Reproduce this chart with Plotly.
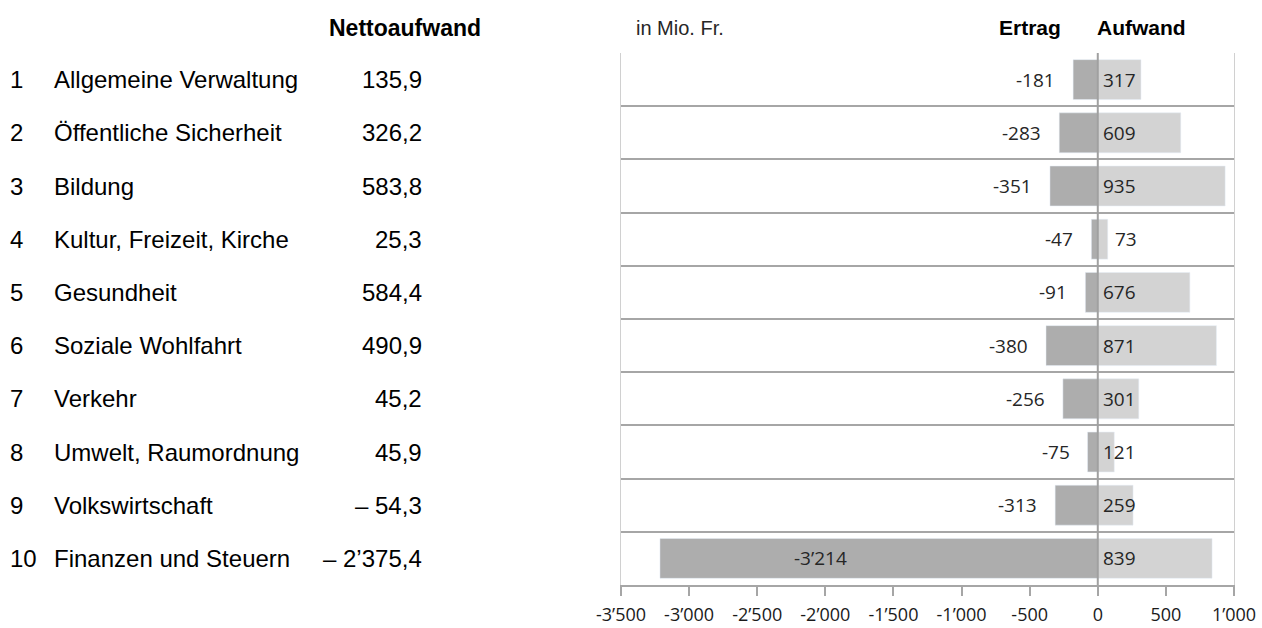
import plotly.graph_objects as go

numbers = ["1", "2", "3", "4", "5", "6", "7", "8", "9", "10"]
categories = ["Allgemeine Verwaltung", "Öffentliche Sicherheit", "Bildung",
              "Kultur, Freizeit, Kirche", "Gesundheit", "Soziale Wohlfahrt",
              "Verkehr", "Umwelt, Raumordnung", "Volkswirtschaft",
              "Finanzen und Steuern"]
netto = ["135,9", "326,2", "583,8", "25,3", "584,4", "490,9", "45,2", "45,9",
         "– 54,3", "– 2’375,4"]
ertrag = [-181, -283, -351, -47, -91, -380, -256, -75, -313, -3214]
aufwand = [317, 609, 935, 73, 676, 871, 301, 121, 259, 839]
tick_vals = [-3500, -3000, -2500, -2000, -1500, -1000, -500, 0, 500, 1000]
tick_text = ["-3’500", "-3’000", "-2’500", "-2’000", "-1’500", "-1’000",
             "-500", "0", "500", "1’000"]


def fmt(v):
    s = f"{abs(v):,}".replace(",", "’")
    return ("-" if v < 0 else "") + s


ypos = list(range(len(categories)))
DARK = "#adadad"
LIGHT = "#d3d3d3"
NUMFONT = dict(family="Open Sans, DejaVu Sans", size=19, color="#262626")
TXTFONT = dict(family="Liberation Sans, Arial", size=24, color="#000000")
HDRFONT = dict(family="Liberation Sans, Arial", size=21, color="#000000")

fig = go.Figure()
fig.add_trace(go.Bar(y=ypos, x=ertrag, orientation="h", marker_color=DARK,
                     width=0.75, hoverinfo="skip"))
fig.add_trace(go.Bar(y=ypos, x=aufwand, orientation="h", marker_color=LIGHT,
                     width=0.75, hoverinfo="skip"))

annotations = []
for i, (e, a) in enumerate(zip(ertrag, aufwand)):
    if e < -1500:
        annotations.append(dict(x=e / 2, y=i, xref="x", yref="y", text=fmt(e),
                                showarrow=False, xanchor="center", xshift=-58,
                                font=NUMFONT))
    else:
        annotations.append(dict(x=e, y=i, xref="x", yref="y", text=fmt(e),
                                showarrow=False, xanchor="right", xshift=-16,
                                font=NUMFONT))
    annotations.append(dict(x=0, y=i, xref="x", yref="y", text=fmt(a),
                            showarrow=False, xanchor="left",
                            xshift=(15 if a < 100 else 3), font=NUMFONT))

W = 613.0
L = 621.0


def px(p):
    return (p - L) / W


for i in range(len(categories)):
    annotations.append(dict(x=px(8), y=i, xref="paper", yref="y", text=numbers[i],
                            showarrow=False, xanchor="left", font=TXTFONT))
    annotations.append(dict(x=px(52), y=i, xref="paper", yref="y", text=categories[i],
                            showarrow=False, xanchor="left", font=TXTFONT))
    annotations.append(dict(x=px(424), y=i, xref="paper", yref="y", text=netto[i],
                            showarrow=False, xanchor="right", font=TXTFONT))

hdr_y = 1 + (53 - 28) / 532.0
annotations.append(dict(x=px(483), y=hdr_y, xref="paper", yref="paper",
                        text="<b>Nettoaufwand</b>", showarrow=False, xanchor="right",
                        yanchor="middle",
                        font=dict(family="Liberation Sans, Arial", size=23, color="#000")))
annotations.append(dict(x=px(634), y=hdr_y, xref="paper", yref="paper",
                        text="in Mio. Fr.", showarrow=False, xanchor="left",
                        yanchor="middle",
                        font=dict(family="Liberation Sans, Arial", size=20, color="#262626")))
annotations.append(dict(x=px(1063), y=hdr_y, xref="paper", yref="paper",
                        text="<b>Ertrag</b>", showarrow=False, xanchor="right",
                        yanchor="middle", font=HDRFONT))
annotations.append(dict(x=px(1141), y=hdr_y, xref="paper", yref="paper",
                        text="<b>Aufwand</b>", showarrow=False, xanchor="center",
                        yanchor="middle", font=HDRFONT))

fig.update_layout(
    width=1262, height=628,
    margin=dict(l=621, r=28, t=53, b=43),
    barmode="relative",
    bargap=0.25,
    showlegend=False,
    plot_bgcolor="white",
    paper_bgcolor="white",
    annotations=annotations,
    shapes=[dict(type="line", xref="x", yref="paper", x0=0, x1=0, y0=0, y1=1,
                 line=dict(color="#a0a0a0", width=2), layer="above")],
)
fig.update_xaxes(range=[-3500, 1000], tickvals=tick_vals, ticktext=tick_text,
                 showgrid=False, zeroline=False, showline=True, linecolor="#a6a6a6",
                 linewidth=2, ticks="outside", ticklen=9, tickwidth=2,
                 tickcolor="#a6a6a6", automargin=False, ticklabelstandoff=3,
                 tickfont=dict(family="Open Sans, DejaVu Sans", size=18, color="#1a1a1a"),
                 fixedrange=True)
fig.update_yaxes(range=[9.5, -0.5], tickvals=[i - 0.5 for i in range(11)],
                 showticklabels=False, showgrid=True, gridcolor="#a6a6a6",
                 gridwidth=2, zeroline=False, showline=True, mirror=True,
                 linecolor="#d0d0d0", linewidth=1, fixedrange=True, automargin=False)

fig.write_html("out.html")
